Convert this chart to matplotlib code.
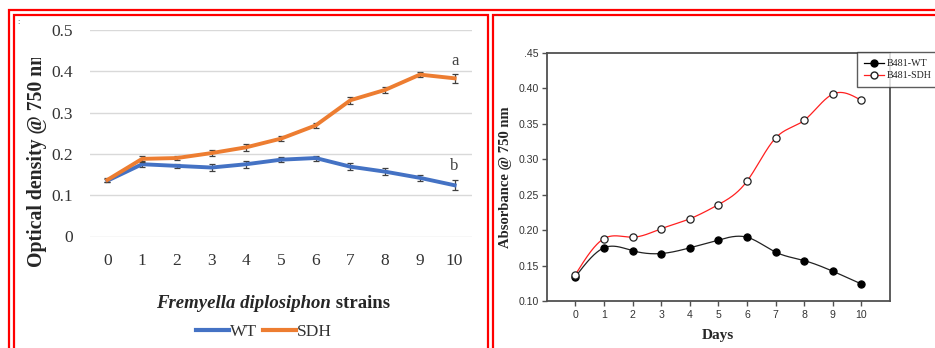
import numpy as np
import matplotlib
matplotlib.use("Agg")
import matplotlib.pyplot as plt
from matplotlib.lines import Line2D
from matplotlib.patches import Rectangle
from matplotlib.transforms import Bbox

# ---- data ----
days = [0, 1, 2, 3, 4, 5, 6, 7, 8, 9, 10]
wt_od = [0.135, 0.175, 0.171, 0.167, 0.175, 0.186, 0.190, 0.169, 0.157, 0.142, 0.124]
sdh_od = [0.137, 0.188, 0.190, 0.202, 0.216, 0.237, 0.269, 0.330, 0.355, 0.392, 0.383]
wt_err = [0.004, 0.007, 0.004, 0.008, 0.008, 0.006, 0.006, 0.008, 0.008, 0.007, 0.012]
sdh_err = [0.004, 0.007, 0.004, 0.008, 0.009, 0.006, 0.007, 0.008, 0.008, 0.007, 0.011]

wt_abs = [0.134, 0.175, 0.171, 0.167, 0.175, 0.186, 0.190, 0.169, 0.157, 0.142, 0.124]
sdh_abs = [0.137, 0.188, 0.190, 0.202, 0.216, 0.236, 0.269, 0.330, 0.355, 0.392, 0.383]

left_yticks = [0, 0.1, 0.2, 0.3, 0.4, 0.5]
left_ytick_labels = ["0", "0.1", "0.2", "0.3", "0.4", "0.5"]
right_yticks = [0.10, 0.15, 0.20, 0.25, 0.30, 0.35, 0.40, 0.45]
right_ytick_labels = ["0.10", "0.15", "0.20", "0.25", "0.30", "0.35", "0.40", ".45"]

W, H = 935, 348
SERIF = ["Liberation Serif", "DejaVu Serif"]
SANS = ["Liberation Sans", "DejaVu Sans"]


def natural_spline(x, y, n=400):
    """Natural cubic spline through (x, y), evaluated on a dense grid."""
    x = np.asarray(x, float)
    y = np.asarray(y, float)
    m = len(x)
    h = np.diff(x)
    A = np.zeros((m, m))
    r = np.zeros(m)
    A[0, 0] = A[-1, -1] = 1.0
    for i in range(1, m - 1):
        A[i, i - 1] = h[i - 1]
        A[i, i] = 2 * (h[i - 1] + h[i])
        A[i, i + 1] = h[i]
        r[i] = 6 * ((y[i + 1] - y[i]) / h[i] - (y[i] - y[i - 1]) / h[i - 1])
    M = np.linalg.solve(A, r)
    xs = np.linspace(x[0], x[-1], n)
    idx = np.clip(np.searchsorted(x, xs) - 1, 0, m - 2)
    x0, x1 = x[idx], x[idx + 1]
    hh = x1 - x0
    t0, t1 = x1 - xs, xs - x0
    ys = (M[idx] * t0 ** 3 + M[idx + 1] * t1 ** 3) / (6 * hh) \
        + (y[idx] / hh - M[idx] * hh / 6) * t0 \
        + (y[idx + 1] / hh - M[idx + 1] * hh / 6) * t1
    return xs, ys


def fx(px):
    return px / W


def fy(py):
    return 1 - py / H


fig = plt.figure(figsize=(W / 100, H / 100), dpi=100)
fig.patch.set_facecolor("white")

# ---- red panel frames ----
red = "#ff0000"
for (x0, y0, x1, y1) in [(8.5, 10, 940, 400), (13.5, 14.5, 487.5, 400), (493, 14.5, 940, 400)]:
    fig.add_artist(Rectangle((fx(x0), fy(y1)), fx(x1) - fx(x0), fy(y0) - fy(y1),
                             transform=fig.transFigure, fill=False,
                             edgecolor=red, linewidth=1.6, clip_on=False))

# ---- left panel: optical density ----
axL = fig.add_axes([fx(90), fy(236.5), fx(472) - fx(90), fy(30) - fy(236.5)])
blue = "#4472C4"
orange = "#ED7D31"
axL.errorbar(days, wt_od, yerr=wt_err, color=blue, lw=2.8, ecolor="#404040",
             elinewidth=0.9, capsize=2.5, capthick=0.9, zorder=3)
axL.errorbar(days, sdh_od, yerr=sdh_err, color=orange, lw=2.8, ecolor="#404040",
             elinewidth=0.9, capsize=2.5, capthick=0.9, zorder=4)
axL.set_xlim(-0.5, 10.5)
axL.set_ylim(0, 0.5)
axL.set_yticks(left_yticks)
axL.set_yticklabels(left_ytick_labels)
axL.set_xticks(days)
axL.set_xticklabels([str(d) for d in days])
for s in axL.spines.values():
    s.set_visible(False)
axL.yaxis.grid(True, color="#d9d9d9", lw=1.0)
axL.set_axisbelow(True)
axL.tick_params(length=0, labelsize=12.5, labelcolor="#333333")
axL.tick_params(axis="y", pad=12)
axL.tick_params(axis="x", pad=12)
for lab in axL.get_xticklabels() + axL.get_yticklabels():
    lab.set_fontfamily(SERIF)

axL.text(days[-1], 0.425, "a", ha="center", va="center", fontsize=12,
         family=SERIF, color="#444444")
axL.text(days[-1], 0.17, "b", ha="center", va="center", fontsize=12,
         family=SERIF, color="#444444")

# y label runs past the panel's top edge and is cut there
ylab = fig.text(fx(37), fy(267), "Optical density @ 750 nm", rotation=90,
                rotation_mode="anchor", ha="left", va="center", fontsize=14.2,
                fontweight="bold", family=SERIF, color="#262626")
ylab.set_clip_box(Bbox.from_extents(0, 0, W, H - 58))
ylab.set_clip_on(True)

fig.text(fx(18), fy(22), ":", fontsize=6, family=SANS, color="#333333",
         ha="center", va="center")

# x label with an italic genus/species name
renderer = fig.canvas.get_renderer()
t1 = fig.text(0, fy(303), "Fremyella diplosiphon", fontsize=13.5, fontweight="bold",
              style="italic", family=SERIF, color="#262626", va="center")
t2 = fig.text(0, fy(303), " strains", fontsize=13.5, fontweight="bold",
              family=SERIF, color="#262626", va="center")
w1 = t1.get_window_extent(renderer).width
w2 = t2.get_window_extent(renderer).width
start = 273 - (w1 + w2) / 2
t1.set_x(fx(start))
t2.set_x(fx(start + w1))

handles_L = [Line2D([], [], color=blue, lw=3), Line2D([], [], color=orange, lw=3)]
fig.legend(handles_L, ["WT", "SDH"], loc="center", bbox_to_anchor=(fx(264), fy(332)),
           ncol=2, frameon=False, handlelength=1.9, handletextpad=0.05,
           columnspacing=0.4, prop={"family": SERIF, "size": 12.5},
           labelcolor="#333333")

# ---- right panel: absorbance ----
axR = fig.add_axes([fx(546.7), fy(301), fx(890) - fx(546.7), fy(53) - fy(301)])
xs, ys = natural_spline(days, wt_abs)
axR.plot(xs, ys, color="#222222", lw=0.9, zorder=3)
xs, ys = natural_spline(days, sdh_abs)
axR.plot(xs, ys, color="#ff2020", lw=0.9, zorder=3)
axR.plot(days, wt_abs, ls="none", marker="o", ms=5.2, mfc="black", mec="black",
         mew=0.8, zorder=4)
axR.plot(days, sdh_abs, ls="none", marker="o", ms=5.2, mfc="white", mec="#222222",
         mew=0.9, zorder=4)
axR.set_xlim(-1, 11)
axR.set_ylim(0.10, 0.45)
axR.set_xticks(days)
axR.set_xticklabels([str(d) for d in days])
axR.set_yticks(right_yticks)
axR.set_yticklabels(right_ytick_labels)
for s in axR.spines.values():
    s.set_color("#505050")
    s.set_linewidth(1.3)
axR.tick_params(direction="out", length=3.5, width=1.0, color="#505050",
                labelsize=7.6, labelcolor="#333333", pad=2)
axR.tick_params(axis="x", pad=3)
for lab in axR.get_xticklabels() + axR.get_yticklabels():
    lab.set_fontfamily(SANS)

fig.text(fx(505), fy(177), "Absorbance @ 750 nm", rotation=90, ha="center",
         va="center", fontsize=10.5, fontweight="bold", family=SERIF, color="#262626")
fig.text(fx(718), fy(336), "Days", ha="center", va="center", fontsize=11,
         fontweight="bold", family=SERIF, color="#262626")
fig.text(fx(497), fy(16), "-", fontsize=5, family=SANS, color="#555555",
         ha="center", va="center")

handles_R = [
    Line2D([], [], color="black", lw=0.9, marker="o", ms=5, mfc="black", mec="black"),
    Line2D([], [], color="#ff2020", lw=0.9, marker="o", ms=5, mfc="white", mec="#222222"),
]
legR = fig.legend(handles_R, ["B481-WT", "B481-SDH"], loc="upper left",
                  bbox_to_anchor=(fx(857), fy(52)), frameon=True, fancybox=False,
                  handlelength=2.0, handletextpad=0.3, labelspacing=0.3,
                  borderpad=0.7, borderaxespad=0,
                  prop={"family": SERIF, "size": 7.2}, labelcolor="#222222")
legR.get_frame().set_edgecolor("#333333")
legR.get_frame().set_linewidth(1.0)

fig.savefig("out.png", dpi=100, facecolor="white")
